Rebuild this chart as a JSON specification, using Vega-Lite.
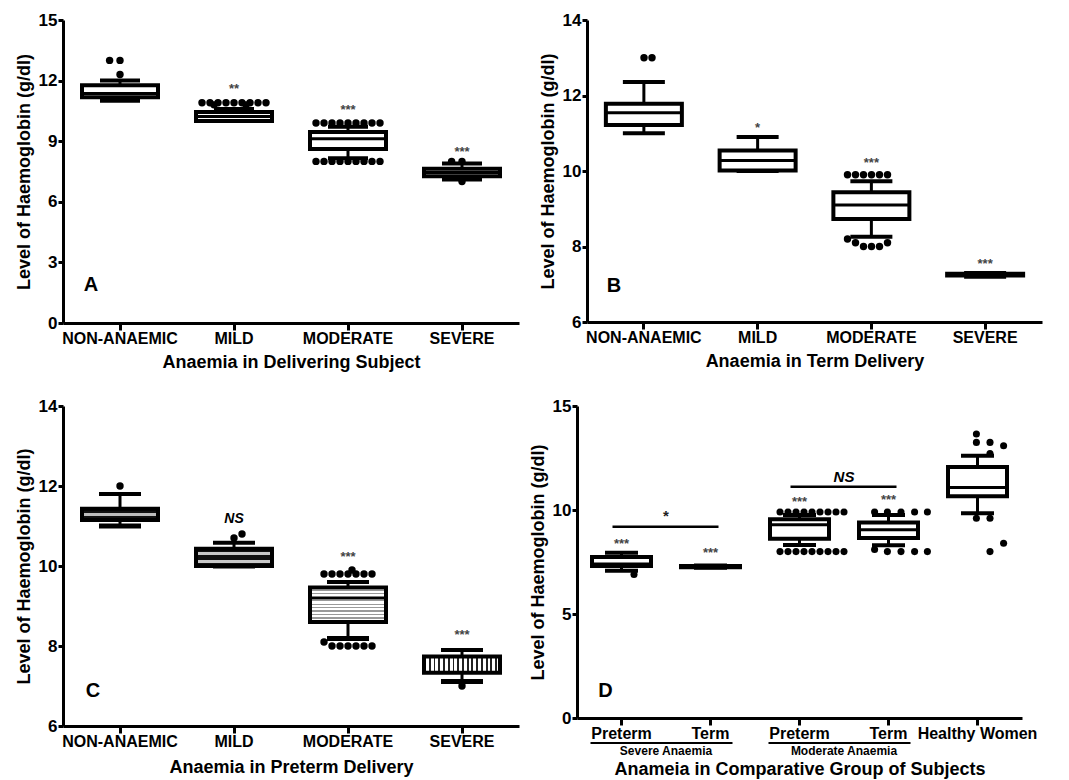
{
"$schema": "https://vega.github.io/schema/vega-lite/v6.json",
"background": "white",
"padding": {"left": 15, "top": 11, "right": 5, "bottom": 3},
"config": {
  "font": "Liberation Sans",
  "view": {"stroke": null},
  "axis": {"domainColor": "#000", "domainWidth": 3, "tickColor": "#000", "tickWidth": 3, "labelColor": "#000", "titleColor": "#000", "labelFont": "Liberation Sans", "titleFont": "Liberation Sans", "labelFontWeight": "bold", "titleFontWeight": "bold", "grid": false},
  "axisX": {"labelFontSize": 16, "titleFontSize": 18, "tickSize": 7, "labelAngle": 0, "labelPadding": 0, "titlePadding": 7},
  "axisY": {"labelFontSize": 17, "titleFontSize": 18, "tickSize": 5, "labelPadding": 1, "titlePadding": 5},
  "text": {"font": "Liberation Sans"}
},
"datasets": {
  "boxA": [
    {"cat": "NON-ANAEMIC", "lower": 11.0, "q1": 11.18, "median": 11.36, "q3": 11.77, "upper": 12.0},
    {"cat": "MILD", "lower": 10.0, "q1": 10.0, "median": 10.22, "q3": 10.45, "upper": 10.6},
    {"cat": "MODERATE", "lower": 8.15, "q1": 8.61, "median": 9.12, "q3": 9.46, "upper": 9.72},
    {"cat": "SEVERE", "lower": 7.1, "q1": 7.26, "median": 7.45, "q3": 7.63, "upper": 7.9}
  ],
  "dotsA": [
    {"cat": "NON-ANAEMIC", "hb": 13.0, "k": -1.3}, {"cat": "NON-ANAEMIC", "hb": 13.0, "k": 0}, {"cat": "NON-ANAEMIC", "hb": 12.3, "k": 0},
    {"cat": "MILD", "hb": 10.9, "k": -4}, {"cat": "MILD", "hb": 10.9, "k": -3}, {"cat": "MILD", "hb": 10.9, "k": -2}, {"cat": "MILD", "hb": 10.9, "k": -1}, {"cat": "MILD", "hb": 10.9, "k": 0}, {"cat": "MILD", "hb": 10.9, "k": 1}, {"cat": "MILD", "hb": 10.9, "k": 2}, {"cat": "MILD", "hb": 10.9, "k": 3}, {"cat": "MILD", "hb": 10.9, "k": 4},
    {"cat": "MILD", "hb": 10.8, "k": -2.5}, {"cat": "MILD", "hb": 10.8, "k": 1.5},
    {"cat": "MODERATE", "hb": 9.9, "k": -4}, {"cat": "MODERATE", "hb": 9.9, "k": -3}, {"cat": "MODERATE", "hb": 9.9, "k": -2}, {"cat": "MODERATE", "hb": 9.9, "k": -1}, {"cat": "MODERATE", "hb": 9.9, "k": 0}, {"cat": "MODERATE", "hb": 9.9, "k": 1}, {"cat": "MODERATE", "hb": 9.9, "k": 2}, {"cat": "MODERATE", "hb": 9.9, "k": 3}, {"cat": "MODERATE", "hb": 9.9, "k": 4},
    {"cat": "MODERATE", "hb": 8.0, "k": -4}, {"cat": "MODERATE", "hb": 8.0, "k": -3}, {"cat": "MODERATE", "hb": 8.0, "k": -2}, {"cat": "MODERATE", "hb": 8.0, "k": -1}, {"cat": "MODERATE", "hb": 8.0, "k": 0}, {"cat": "MODERATE", "hb": 8.0, "k": 1}, {"cat": "MODERATE", "hb": 8.0, "k": 2}, {"cat": "MODERATE", "hb": 8.0, "k": 3}, {"cat": "MODERATE", "hb": 8.0, "k": 4},
    {"cat": "SEVERE", "hb": 8.0, "k": -1.3}, {"cat": "SEVERE", "hb": 8.0, "k": 0}, {"cat": "SEVERE", "hb": 7.0, "k": 0}
  ],
  "sigA": [
    {"cat": "MILD", "label": "**", "at": 11.6},
    {"cat": "MODERATE", "label": "***", "at": 10.55},
    {"cat": "SEVERE", "label": "***", "at": 8.45}
  ],
  "boxB": [
    {"cat": "NON-ANAEMIC", "lower": 11.0, "q1": 11.22, "median": 11.54, "q3": 11.78, "upper": 12.36},
    {"cat": "MILD", "lower": 10.0, "q1": 10.01, "median": 10.28, "q3": 10.54, "upper": 10.9},
    {"cat": "MODERATE", "lower": 8.26, "q1": 8.73, "median": 9.1, "q3": 9.44, "upper": 9.73},
    {"cat": "SEVERE", "lower": 7.2, "q1": 7.23, "median": 7.25, "q3": 7.28, "upper": 7.3}
  ],
  "dotsB": [
    {"cat": "NON-ANAEMIC", "hb": 13.0, "k": 0}, {"cat": "NON-ANAEMIC", "hb": 13.0, "k": 1},
    {"cat": "MODERATE", "hb": 9.9, "k": -3}, {"cat": "MODERATE", "hb": 9.9, "k": -2}, {"cat": "MODERATE", "hb": 9.9, "k": -1}, {"cat": "MODERATE", "hb": 9.9, "k": 0}, {"cat": "MODERATE", "hb": 9.9, "k": 1}, {"cat": "MODERATE", "hb": 9.9, "k": 2},
    {"cat": "MODERATE", "hb": 8.2, "k": -3}, {"cat": "MODERATE", "hb": 8.1, "k": -2}, {"cat": "MODERATE", "hb": 8.0, "k": -1}, {"cat": "MODERATE", "hb": 8.0, "k": 0}, {"cat": "MODERATE", "hb": 8.0, "k": 1}, {"cat": "MODERATE", "hb": 8.1, "k": 2}
  ],
  "sigB": [
    {"cat": "MILD", "label": "*", "at": 11.14},
    {"cat": "MODERATE", "label": "***", "at": 10.21},
    {"cat": "SEVERE", "label": "***", "at": 7.54}
  ],
  "boxC": [
    {"cat": "NON-ANAEMIC", "lower": 11.0, "q1": 11.15, "median": 11.3, "q3": 11.43, "upper": 11.8},
    {"cat": "MILD", "lower": 10.0, "q1": 10.0, "median": 10.2, "q3": 10.43, "upper": 10.58},
    {"cat": "MODERATE", "lower": 8.19, "q1": 8.6, "median": 9.2, "q3": 9.46, "upper": 9.6},
    {"cat": "SEVERE", "lower": 7.11, "q1": 7.33, "median": 7.6, "q3": 7.74, "upper": 7.9}
  ],
  "dotsC": [
    {"cat": "NON-ANAEMIC", "hb": 12.0, "k": 0},
    {"cat": "MILD", "hb": 10.7, "k": 0}, {"cat": "MILD", "hb": 10.8, "k": 1},
    {"cat": "MODERATE", "hb": 9.8, "k": -3}, {"cat": "MODERATE", "hb": 9.8, "k": -2}, {"cat": "MODERATE", "hb": 9.8, "k": -1}, {"cat": "MODERATE", "hb": 9.8, "k": 0}, {"cat": "MODERATE", "hb": 9.8, "k": 1}, {"cat": "MODERATE", "hb": 9.8, "k": 2}, {"cat": "MODERATE", "hb": 9.8, "k": 3}, {"cat": "MODERATE", "hb": 9.9, "k": 0.5},
    {"cat": "MODERATE", "hb": 8.1, "k": -3}, {"cat": "MODERATE", "hb": 8.0, "k": -2}, {"cat": "MODERATE", "hb": 8.0, "k": -1}, {"cat": "MODERATE", "hb": 8.0, "k": 0}, {"cat": "MODERATE", "hb": 8.0, "k": 1}, {"cat": "MODERATE", "hb": 8.0, "k": 2}, {"cat": "MODERATE", "hb": 8.0, "k": 3},
    {"cat": "SEVERE", "hb": 7.0, "k": 0}
  ],
  "sigC": [
    {"cat": "MILD", "label": "NS", "at": 11.18},
    {"cat": "MODERATE", "label": "***", "at": 10.23},
    {"cat": "SEVERE", "label": "***", "at": 8.28}
  ],
  "boxD": [
    {"cat": "Severe Preterm", "lower": 7.08, "q1": 7.31, "median": 7.4, "q3": 7.74, "upper": 7.95},
    {"cat": "Severe Term", "lower": 7.22, "q1": 7.25, "median": 7.28, "q3": 7.31, "upper": 7.33},
    {"cat": "Moderate Preterm", "lower": 8.32, "q1": 8.62, "median": 9.29, "q3": 9.55, "upper": 9.76},
    {"cat": "Moderate Term", "lower": 8.3, "q1": 8.65, "median": 9.05, "q3": 9.4, "upper": 9.76},
    {"cat": "Healthy Women", "lower": 9.84, "q1": 10.66, "median": 11.08, "q3": 12.07, "upper": 12.61}
  ],
  "dotsD": [
    {"cat": "Severe Preterm", "hb": 6.9, "k": 0},
    {"cat": "Moderate Preterm", "hb": 9.9, "k": -4}, {"cat": "Moderate Preterm", "hb": 9.9, "k": -3}, {"cat": "Moderate Preterm", "hb": 9.9, "k": -2}, {"cat": "Moderate Preterm", "hb": 9.9, "k": -1}, {"cat": "Moderate Preterm", "hb": 9.9, "k": 0}, {"cat": "Moderate Preterm", "hb": 9.9, "k": 1}, {"cat": "Moderate Preterm", "hb": 9.9, "k": 2}, {"cat": "Moderate Preterm", "hb": 9.9, "k": 3}, {"cat": "Moderate Preterm", "hb": 9.9, "k": 4},
    {"cat": "Moderate Preterm", "hb": 8.0, "k": -4}, {"cat": "Moderate Preterm", "hb": 8.0, "k": -3}, {"cat": "Moderate Preterm", "hb": 8.0, "k": -2}, {"cat": "Moderate Preterm", "hb": 8.0, "k": -1}, {"cat": "Moderate Preterm", "hb": 8.0, "k": 0}, {"cat": "Moderate Preterm", "hb": 8.0, "k": 1}, {"cat": "Moderate Preterm", "hb": 8.0, "k": 2}, {"cat": "Moderate Preterm", "hb": 8.0, "k": 3}, {"cat": "Moderate Preterm", "hb": 8.0, "k": 4},
    {"cat": "Moderate Term", "hb": 9.9, "k": -3.3}, {"cat": "Moderate Term", "hb": 9.9, "k": -1.7}, {"cat": "Moderate Term", "hb": 9.9, "k": 0}, {"cat": "Moderate Term", "hb": 9.9, "k": 1.7}, {"cat": "Moderate Term", "hb": 9.9, "k": 3.3},
    {"cat": "Moderate Term", "hb": 8.1, "k": -3.3}, {"cat": "Moderate Term", "hb": 8.0, "k": -1.7}, {"cat": "Moderate Term", "hb": 8.0, "k": 0}, {"cat": "Moderate Term", "hb": 8.0, "k": 1.7}, {"cat": "Moderate Term", "hb": 8.0, "k": 3.3},
    {"cat": "Healthy Women", "hb": 13.65, "k": -1.7}, {"cat": "Healthy Women", "hb": 13.25, "k": -1.7}, {"cat": "Healthy Women", "hb": 13.25, "k": 0}, {"cat": "Healthy Women", "hb": 13.09, "k": 1.7}, {"cat": "Healthy Women", "hb": 12.72, "k": 0},
    {"cat": "Healthy Women", "hb": 9.6, "k": -1.7}, {"cat": "Healthy Women", "hb": 9.6, "k": 0}, {"cat": "Healthy Women", "hb": 8.4, "k": 1.7}, {"cat": "Healthy Women", "hb": 8.0, "k": 0}
  ],
  "sigD": [
    {"cat": "Severe Preterm", "label": "***", "at": 8.37},
    {"cat": "Severe Term", "label": "***", "at": 7.93},
    {"cat": "Moderate Preterm", "label": "***", "at": 10.38},
    {"cat": "Moderate Term", "label": "***", "at": 10.48}
  ],
  "bracketsD": [
    {"from": "Severe Preterm", "to": "Severe Term", "label": "*", "at": 9.2, "labelAt": 9.7},
    {"from": "Moderate Preterm", "to": "Moderate Term", "label": "NS", "at": 11.12, "labelAt": 11.6}
  ],
  "groupsD": [
    {"from": "Severe Preterm", "to": "Severe Term", "group": "Severe Anaemia"},
    {"from": "Moderate Preterm", "to": "Moderate Term", "group": "Moderate Anaemia"}
  ]
},
"spacing": 26,
"vconcat": [
{
"spacing": 20,
"hconcat": [
{
  "width": 456, "height": 303,
  "encoding": {"x": {"field": "cat", "type": "nominal", "scale": {"type": "band", "domain": ["NON-ANAEMIC", "MILD", "MODERATE", "SEVERE"], "paddingInner": 0, "paddingOuter": 0}, "axis": {"title": "Anaemia in Delivering Subject"}}},
  "layer": [
    {"data": {"name": "boxA"}, "mark": {"type": "rule", "strokeWidth": 3, "color": "#000"}, "encoding": {"y": {"field": "lower", "type": "quantitative", "scale": {"domain": [0, 15], "nice": false, "zero": false}, "axis": {"title": "Level of Haemoglobin (g/dl)", "values": [0, 3, 6, 9, 12, 15]}}, "y2": {"field": "upper"}}},
    {"data": {"name": "boxA"}, "mark": {"type": "tick", "size": 40, "thickness": 4, "color": "#000", "opacity": 1}, "encoding": {"y": {"field": "upper", "type": "quantitative", "scale": {"domain": [0, 15], "nice": false, "zero": false}}}},
    {"data": {"name": "boxA"}, "mark": {"type": "tick", "size": 40, "thickness": 4, "color": "#000", "opacity": 1}, "encoding": {"y": {"field": "lower", "type": "quantitative", "scale": {"domain": [0, 15], "nice": false, "zero": false}}}},
    {"data": {"name": "boxA"}, "mark": {"type": "bar", "width": 76, "fill": "#fff", "stroke": "#000", "strokeWidth": 4}, "encoding": {"y": {"field": "q1", "type": "quantitative", "scale": {"domain": [0, 15], "nice": false, "zero": false}}, "y2": {"field": "q3"}}},
    {"data": {"name": "boxA"}, "mark": {"type": "tick", "size": 76, "thickness": 3, "color": "#000", "opacity": 1}, "encoding": {"y": {"field": "median", "type": "quantitative", "scale": {"domain": [0, 15], "nice": false, "zero": false}}}},
    {"data": {"name": "dotsA"}, "mark": {"type": "point", "filled": true, "size": 55, "color": "#000", "opacity": 1}, "encoding": {"y": {"field": "hb", "type": "quantitative", "scale": {"domain": [0, 15], "nice": false, "zero": false}}, "xOffset": {"field": "k", "type": "quantitative", "scale": {"domain": [-4, 4], "range": [25, 89]}}}},
    {"data": {"name": "sigA"}, "mark": {"type": "text", "fontSize": 13, "fontWeight": "bold", "color": "#444"}, "encoding": {"y": {"field": "at", "type": "quantitative", "scale": {"domain": [0, 15], "nice": false, "zero": false}}, "text": {"field": "label"}}},
    {"data": {"values": [{"panel": "A"}]}, "mark": {"type": "text", "fontSize": 20, "fontWeight": "bold", "color": "#000", "dx": -29}, "encoding": {"x": {"datum": "NON-ANAEMIC"}, "y": {"datum": 1.88, "type": "quantitative", "scale": {"domain": [0, 15], "nice": false, "zero": false}}, "text": {"field": "panel"}}}
  ]
},
{
  "width": 455, "height": 302,
  "encoding": {"x": {"field": "cat", "type": "nominal", "scale": {"type": "band", "domain": ["NON-ANAEMIC", "MILD", "MODERATE", "SEVERE"], "paddingInner": 0, "paddingOuter": 0}, "axis": {"title": "Anaemia in Term Delivery"}}},
  "layer": [
    {"data": {"name": "boxB"}, "mark": {"type": "rule", "strokeWidth": 3, "color": "#000"}, "encoding": {"y": {"field": "lower", "type": "quantitative", "scale": {"domain": [6, 14], "nice": false, "zero": false}, "axis": {"title": "Level of Haemoglobin (g/dl)", "values": [6, 8, 10, 12, 14]}}, "y2": {"field": "upper"}}},
    {"data": {"name": "boxB"}, "mark": {"type": "tick", "size": 42, "thickness": 4, "color": "#000", "opacity": 1}, "encoding": {"y": {"field": "upper", "type": "quantitative", "scale": {"domain": [6, 14], "nice": false, "zero": false}}}},
    {"data": {"name": "boxB"}, "mark": {"type": "tick", "size": 42, "thickness": 4, "color": "#000", "opacity": 1}, "encoding": {"y": {"field": "lower", "type": "quantitative", "scale": {"domain": [6, 14], "nice": false, "zero": false}}}},
    {"data": {"name": "boxB"}, "mark": {"type": "bar", "width": 76, "fill": "#fff", "stroke": "#000", "strokeWidth": 4}, "encoding": {"y": {"field": "q1", "type": "quantitative", "scale": {"domain": [6, 14], "nice": false, "zero": false}}, "y2": {"field": "q3"}}},
    {"data": {"name": "boxB"}, "mark": {"type": "tick", "size": 76, "thickness": 3, "color": "#000", "opacity": 1}, "encoding": {"y": {"field": "median", "type": "quantitative", "scale": {"domain": [6, 14], "nice": false, "zero": false}}}},
    {"data": {"name": "dotsB"}, "mark": {"type": "point", "filled": true, "size": 55, "color": "#000", "opacity": 1}, "encoding": {"y": {"field": "hb", "type": "quantitative", "scale": {"domain": [6, 14], "nice": false, "zero": false}}, "xOffset": {"field": "k", "type": "quantitative", "scale": {"domain": [-4, 4], "range": [14, 100]}}}},
    {"data": {"name": "sigB"}, "mark": {"type": "text", "fontSize": 13, "fontWeight": "bold", "color": "#444"}, "encoding": {"y": {"field": "at", "type": "quantitative", "scale": {"domain": [6, 14], "nice": false, "zero": false}}, "text": {"field": "label"}}},
    {"data": {"values": [{"panel": "B"}]}, "mark": {"type": "text", "fontSize": 20, "fontWeight": "bold", "color": "#000", "dx": -30}, "encoding": {"x": {"datum": "NON-ANAEMIC"}, "y": {"datum": 6.95, "type": "quantitative", "scale": {"domain": [6, 14], "nice": false, "zero": false}}, "text": {"field": "panel"}}}
  ]
}
]
},
{
"spacing": 10,
"hconcat": [
{
  "width": 456, "height": 320,
  "encoding": {"x": {"field": "cat", "type": "nominal", "scale": {"type": "band", "domain": ["NON-ANAEMIC", "MILD", "MODERATE", "SEVERE"], "paddingInner": 0, "paddingOuter": 0}, "axis": {"title": "Anaemia in Preterm Delivery", "titlePadding": 9}}},
  "layer": [
    {"data": {"name": "boxC"}, "mark": {"type": "rule", "strokeWidth": 3, "color": "#000"}, "encoding": {"y": {"field": "lower", "type": "quantitative", "scale": {"domain": [6, 14], "nice": false, "zero": false}, "axis": {"title": "Level of Haemoglobin (g/dl)", "values": [6, 8, 10, 12, 14]}}, "y2": {"field": "upper"}}},
    {"data": {"name": "boxC"}, "mark": {"type": "tick", "size": 42, "thickness": 4, "color": "#000", "opacity": 1}, "encoding": {"y": {"field": "upper", "type": "quantitative", "scale": {"domain": [6, 14], "nice": false, "zero": false}}}},
    {"data": {"name": "boxC"}, "mark": {"type": "tick", "size": 42, "thickness": 5, "color": "#000", "opacity": 1}, "encoding": {"y": {"field": "lower", "type": "quantitative", "scale": {"domain": [6, 14], "nice": false, "zero": false}}}},
    {"data": {"name": "boxC"}, "transform": [{"filter": "datum.cat === 'NON-ANAEMIC'"}], "mark": {"type": "bar", "width": 76, "stroke": "#000", "strokeWidth": 4, "fill": {"gradient": "linear", "x1": 0, "y1": 0, "x2": 0, "y2": 1, "stops": [{"offset": 0, "color": "#111"}, {"offset": 0.36, "color": "#111"}, {"offset": 0.36, "color": "#bdbdbd"}, {"offset": 0.64, "color": "#bdbdbd"}, {"offset": 0.64, "color": "#111"}, {"offset": 1, "color": "#111"}]}}, "encoding": {"y": {"field": "q1", "type": "quantitative", "scale": {"domain": [6, 14], "nice": false, "zero": false}}, "y2": {"field": "q3"}}},
    {"data": {"name": "boxC"}, "transform": [{"filter": "datum.cat === 'MILD'"}], "mark": {"type": "bar", "width": 76, "stroke": "#000", "strokeWidth": 4, "fill": {"gradient": "linear", "x1": 0, "y1": 0, "x2": 0, "y2": 1, "stops": [{"offset": 0, "color": "#111"}, {"offset": 0.2, "color": "#111"}, {"offset": 0.2, "color": "#c8c8c8"}, {"offset": 0.34, "color": "#c8c8c8"}, {"offset": 0.34, "color": "#111"}, {"offset": 0.66, "color": "#111"}, {"offset": 0.66, "color": "#c8c8c8"}, {"offset": 0.8, "color": "#c8c8c8"}, {"offset": 0.8, "color": "#111"}, {"offset": 1, "color": "#111"}]}}, "encoding": {"y": {"field": "q1", "type": "quantitative", "scale": {"domain": [6, 14], "nice": false, "zero": false}}, "y2": {"field": "q3"}}},
    {"data": {"name": "boxC"}, "transform": [{"filter": "datum.cat === 'MODERATE'"}], "mark": {"type": "bar", "width": 76, "stroke": "#000", "strokeWidth": 4, "fill": {"gradient": "linear", "x1": 0, "y1": 0, "x2": 0, "y2": 1, "stops": [{"offset": 0, "color": "#fff"}, {"offset": 0.065, "color": "#fff"}, {"offset": 0.065, "color": "#999"}, {"offset": 0.1, "color": "#999"}, {"offset": 0.1, "color": "#fff"}, {"offset": 0.165, "color": "#fff"}, {"offset": 0.165, "color": "#999"}, {"offset": 0.2, "color": "#999"}, {"offset": 0.2, "color": "#fff"}, {"offset": 0.265, "color": "#fff"}, {"offset": 0.265, "color": "#999"}, {"offset": 0.3, "color": "#999"}, {"offset": 0.3, "color": "#fff"}, {"offset": 0.365, "color": "#fff"}, {"offset": 0.365, "color": "#999"}, {"offset": 0.4, "color": "#999"}, {"offset": 0.4, "color": "#fff"}, {"offset": 0.465, "color": "#fff"}, {"offset": 0.465, "color": "#999"}, {"offset": 0.5, "color": "#999"}, {"offset": 0.5, "color": "#fff"}, {"offset": 0.565, "color": "#fff"}, {"offset": 0.565, "color": "#999"}, {"offset": 0.6, "color": "#999"}, {"offset": 0.6, "color": "#fff"}, {"offset": 0.665, "color": "#fff"}, {"offset": 0.665, "color": "#999"}, {"offset": 0.7, "color": "#999"}, {"offset": 0.7, "color": "#fff"}, {"offset": 0.765, "color": "#fff"}, {"offset": 0.765, "color": "#999"}, {"offset": 0.8, "color": "#999"}, {"offset": 0.8, "color": "#fff"}, {"offset": 0.865, "color": "#fff"}, {"offset": 0.865, "color": "#999"}, {"offset": 0.9, "color": "#999"}, {"offset": 0.9, "color": "#fff"}, {"offset": 0.965, "color": "#fff"}, {"offset": 0.965, "color": "#999"}, {"offset": 1, "color": "#999"}]}}, "encoding": {"y": {"field": "q1", "type": "quantitative", "scale": {"domain": [6, 14], "nice": false, "zero": false}}, "y2": {"field": "q3"}}},
    {"data": {"name": "boxC"}, "transform": [{"filter": "datum.cat === 'SEVERE'"}], "mark": {"type": "bar", "width": 76, "stroke": "#000", "strokeWidth": 4, "fill": {"gradient": "linear", "x1": 0, "y1": 0, "x2": 1, "y2": 0, "stops": [{"offset": 0, "color": "#222"}, {"offset": 0.025, "color": "#222"}, {"offset": 0.025, "color": "#fff"}, {"offset": 0.0625, "color": "#fff"}, {"offset": 0.0625, "color": "#222"}, {"offset": 0.0875, "color": "#222"}, {"offset": 0.0875, "color": "#fff"}, {"offset": 0.125, "color": "#fff"}, {"offset": 0.125, "color": "#222"}, {"offset": 0.15, "color": "#222"}, {"offset": 0.15, "color": "#fff"}, {"offset": 0.1875, "color": "#fff"}, {"offset": 0.1875, "color": "#222"}, {"offset": 0.2125, "color": "#222"}, {"offset": 0.2125, "color": "#fff"}, {"offset": 0.25, "color": "#fff"}, {"offset": 0.25, "color": "#222"}, {"offset": 0.275, "color": "#222"}, {"offset": 0.275, "color": "#fff"}, {"offset": 0.3125, "color": "#fff"}, {"offset": 0.3125, "color": "#222"}, {"offset": 0.3375, "color": "#222"}, {"offset": 0.3375, "color": "#fff"}, {"offset": 0.375, "color": "#fff"}, {"offset": 0.375, "color": "#222"}, {"offset": 0.4, "color": "#222"}, {"offset": 0.4, "color": "#fff"}, {"offset": 0.4375, "color": "#fff"}, {"offset": 0.4375, "color": "#222"}, {"offset": 0.4625, "color": "#222"}, {"offset": 0.4625, "color": "#fff"}, {"offset": 0.5, "color": "#fff"}, {"offset": 0.5, "color": "#222"}, {"offset": 0.525, "color": "#222"}, {"offset": 0.525, "color": "#fff"}, {"offset": 0.5625, "color": "#fff"}, {"offset": 0.5625, "color": "#222"}, {"offset": 0.5875, "color": "#222"}, {"offset": 0.5875, "color": "#fff"}, {"offset": 0.625, "color": "#fff"}, {"offset": 0.625, "color": "#222"}, {"offset": 0.65, "color": "#222"}, {"offset": 0.65, "color": "#fff"}, {"offset": 0.6875, "color": "#fff"}, {"offset": 0.6875, "color": "#222"}, {"offset": 0.7125, "color": "#222"}, {"offset": 0.7125, "color": "#fff"}, {"offset": 0.75, "color": "#fff"}, {"offset": 0.75, "color": "#222"}, {"offset": 0.775, "color": "#222"}, {"offset": 0.775, "color": "#fff"}, {"offset": 0.8125, "color": "#fff"}, {"offset": 0.8125, "color": "#222"}, {"offset": 0.8375, "color": "#222"}, {"offset": 0.8375, "color": "#fff"}, {"offset": 0.875, "color": "#fff"}, {"offset": 0.875, "color": "#222"}, {"offset": 0.9, "color": "#222"}, {"offset": 0.9, "color": "#fff"}, {"offset": 0.9375, "color": "#fff"}, {"offset": 0.9375, "color": "#222"}, {"offset": 0.9625, "color": "#222"}, {"offset": 0.9625, "color": "#fff"}, {"offset": 1, "color": "#fff"}]}}, "encoding": {"y": {"field": "q1", "type": "quantitative", "scale": {"domain": [6, 14], "nice": false, "zero": false}}, "y2": {"field": "q3"}}},
    {"data": {"name": "boxC"}, "transform": [{"filter": "datum.cat === 'MODERATE'"}], "mark": {"type": "tick", "size": 76, "thickness": 3, "color": "#000", "opacity": 1}, "encoding": {"y": {"field": "median", "type": "quantitative", "scale": {"domain": [6, 14], "nice": false, "zero": false}}}},
    {"data": {"name": "dotsC"}, "mark": {"type": "point", "filled": true, "size": 55, "color": "#000", "opacity": 1}, "encoding": {"y": {"field": "hb", "type": "quantitative", "scale": {"domain": [6, 14], "nice": false, "zero": false}}, "xOffset": {"field": "k", "type": "quantitative", "scale": {"domain": [-4, 4], "range": [17, 97]}}}},
    {"data": {"name": "sigC"}, "transform": [{"filter": "datum.label !== 'NS'"}], "mark": {"type": "text", "fontSize": 13, "fontWeight": "bold", "color": "#444"}, "encoding": {"y": {"field": "at", "type": "quantitative", "scale": {"domain": [6, 14], "nice": false, "zero": false}}, "text": {"field": "label"}}},
    {"data": {"name": "sigC"}, "transform": [{"filter": "datum.label === 'NS'"}], "mark": {"type": "text", "fontSize": 14, "fontWeight": "bold", "fontStyle": "italic", "color": "#000"}, "encoding": {"y": {"field": "at", "type": "quantitative", "scale": {"domain": [6, 14], "nice": false, "zero": false}}, "text": {"field": "label"}}},
    {"data": {"values": [{"panel": "C"}]}, "mark": {"type": "text", "fontSize": 20, "fontWeight": "bold", "color": "#000", "dx": -27}, "encoding": {"x": {"datum": "NON-ANAEMIC"}, "y": {"datum": 6.88, "type": "quantitative", "scale": {"domain": [6, 14], "nice": false, "zero": false}}, "text": {"field": "panel"}}}
  ]
},
{
  "width": 445, "height": 312,
  "encoding": {"x": {"field": "cat", "type": "nominal", "scale": {"type": "band", "domain": ["Severe Preterm", "Severe Term", "Moderate Preterm", "Moderate Term", "Healthy Women"], "paddingInner": 0, "paddingOuter": 0}, "axis": {"title": "Anameia in Comparative Group of Subjects", "labelExpr": "replace(replace(datum.label, 'Severe ', ''), 'Moderate ', '')", "titlePadding": 19}}},
  "layer": [
    {"data": {"name": "boxD"}, "mark": {"type": "rule", "strokeWidth": 3, "color": "#000"}, "encoding": {"y": {"field": "lower", "type": "quantitative", "scale": {"domain": [0, 15], "nice": false, "zero": false}, "axis": {"title": "Level of Haemoglobin (g/dl)", "values": [0, 5, 10, 15]}}, "y2": {"field": "upper"}}},
    {"data": {"name": "boxD"}, "mark": {"type": "tick", "size": 33, "thickness": 4, "color": "#000", "opacity": 1}, "encoding": {"y": {"field": "upper", "type": "quantitative", "scale": {"domain": [0, 15], "nice": false, "zero": false}}}},
    {"data": {"name": "boxD"}, "mark": {"type": "tick", "size": 33, "thickness": 4, "color": "#000", "opacity": 1}, "encoding": {"y": {"field": "lower", "type": "quantitative", "scale": {"domain": [0, 15], "nice": false, "zero": false}}}},
    {"data": {"name": "boxD"}, "mark": {"type": "bar", "width": 59, "fill": "#fff", "stroke": "#000", "strokeWidth": 4}, "encoding": {"y": {"field": "q1", "type": "quantitative", "scale": {"domain": [0, 15], "nice": false, "zero": false}}, "y2": {"field": "q3"}}},
    {"data": {"name": "boxD"}, "mark": {"type": "tick", "size": 59, "thickness": 3, "color": "#000", "opacity": 1}, "encoding": {"y": {"field": "median", "type": "quantitative", "scale": {"domain": [0, 15], "nice": false, "zero": false}}}},
    {"data": {"name": "dotsD"}, "mark": {"type": "point", "filled": true, "size": 50, "color": "#000", "opacity": 1}, "encoding": {"y": {"field": "hb", "type": "quantitative", "scale": {"domain": [0, 15], "nice": false, "zero": false}}, "xOffset": {"field": "k", "type": "quantitative", "scale": {"domain": [-4, 4], "range": [20.5, 68.5]}}}},
    {"data": {"name": "sigD"}, "mark": {"type": "text", "fontSize": 13, "fontWeight": "bold", "color": "#444"}, "encoding": {"y": {"field": "at", "type": "quantitative", "scale": {"domain": [0, 15], "nice": false, "zero": false}}, "text": {"field": "label"}}},
    {"data": {"name": "bracketsD"}, "mark": {"type": "rule", "strokeWidth": 2.5, "color": "#000", "xOffset": -9, "x2Offset": 8}, "encoding": {"x": {"field": "from", "type": "nominal", "scale": {"type": "band", "domain": ["Severe Preterm", "Severe Term", "Moderate Preterm", "Moderate Term", "Healthy Women"], "paddingInner": 0, "paddingOuter": 0}}, "x2": {"field": "to"}, "y": {"field": "at", "type": "quantitative", "scale": {"domain": [0, 15], "nice": false, "zero": false}}}},
    {"data": {"name": "bracketsD"}, "transform": [{"filter": "datum.label !== 'NS'"}], "mark": {"type": "text", "fontSize": 15, "fontWeight": "bold", "color": "#222"}, "encoding": {"x": {"field": "from", "type": "nominal", "bandPosition": 1, "scale": {"type": "band", "domain": ["Severe Preterm", "Severe Term", "Moderate Preterm", "Moderate Term", "Healthy Women"], "paddingInner": 0, "paddingOuter": 0}}, "y": {"field": "labelAt", "type": "quantitative", "scale": {"domain": [0, 15], "nice": false, "zero": false}}, "text": {"field": "label"}}},
    {"data": {"name": "bracketsD"}, "transform": [{"filter": "datum.label === 'NS'"}], "mark": {"type": "text", "fontSize": 15, "fontWeight": "bold", "fontStyle": "italic", "color": "#000"}, "encoding": {"x": {"field": "from", "type": "nominal", "bandPosition": 1, "scale": {"type": "band", "domain": ["Severe Preterm", "Severe Term", "Moderate Preterm", "Moderate Term", "Healthy Women"], "paddingInner": 0, "paddingOuter": 0}}, "y": {"field": "labelAt", "type": "quantitative", "scale": {"domain": [0, 15], "nice": false, "zero": false}}, "text": {"field": "label"}}},
    {"data": {"name": "groupsD"}, "mark": {"type": "rule", "strokeWidth": 2, "color": "#000", "xOffset": -31, "x2Offset": 22}, "encoding": {"x": {"field": "from", "type": "nominal", "scale": {"type": "band", "domain": ["Severe Preterm", "Severe Term", "Moderate Preterm", "Moderate Term", "Healthy Women"], "paddingInner": 0, "paddingOuter": 0}}, "x2": {"field": "to"}, "y": {"datum": -1.2, "type": "quantitative", "scale": {"domain": [0, 15], "nice": false, "zero": false}}}},
    {"data": {"name": "groupsD"}, "mark": {"type": "text", "fontSize": 12, "fontWeight": "bold", "color": "#000", "baseline": "middle"}, "encoding": {"x": {"field": "from", "type": "nominal", "bandPosition": 1, "scale": {"type": "band", "domain": ["Severe Preterm", "Severe Term", "Moderate Preterm", "Moderate Term", "Healthy Women"], "paddingInner": 0, "paddingOuter": 0}}, "y": {"datum": -1.6, "type": "quantitative", "scale": {"domain": [0, 15], "nice": false, "zero": false}}, "text": {"field": "group"}}},
    {"data": {"values": [{"panel": "D"}]}, "mark": {"type": "text", "fontSize": 20, "fontWeight": "bold", "color": "#000", "dx": -16}, "encoding": {"x": {"datum": "Severe Preterm"}, "y": {"datum": 1.31, "type": "quantitative", "scale": {"domain": [0, 15], "nice": false, "zero": false}}, "text": {"field": "panel"}}}
  ]
}
]
}
]
}
